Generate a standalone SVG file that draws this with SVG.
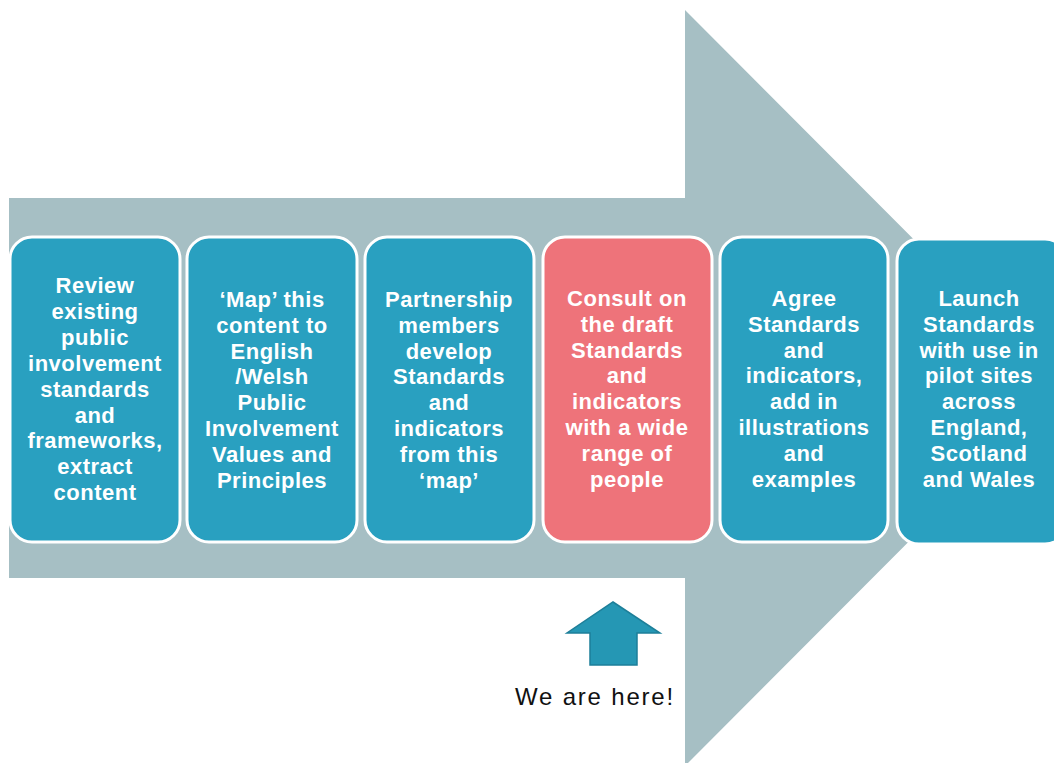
<svg xmlns="http://www.w3.org/2000/svg" width="1054" height="763" viewBox="0 0 1054 763">
<style>
.box{fill:#29a0c0;stroke:#ffffff;stroke-width:3}
.hot{fill:#ee737a}
.t{font-family:"Liberation Sans",Arial,sans-serif;font-size:22px;font-weight:bold;fill:#ffffff;text-anchor:middle;letter-spacing:0.5px}
.lbl{font-family:"Liberation Sans",Arial,sans-serif;font-size:24px;fill:#111111;text-anchor:middle;letter-spacing:1.8px}
</style>
<rect width="1054" height="763" fill="#ffffff"/>
<g id="big-arrow">
<polygon points="9,198 685,198 685,10 1062,388 685,766 685,578 9,578" fill="#a6bfc4"/>
</g>
<g id="step1">
<rect class="box" x="10" y="237" width="170" height="305" rx="22"/>
<text class="t" x="95" y="293"><tspan x="95">Review</tspan><tspan x="95" dy="25.9">existing</tspan><tspan x="95" dy="25.9">public</tspan><tspan x="95" dy="25.9">involvement</tspan><tspan x="95" dy="25.9">standards</tspan><tspan x="95" dy="25.9">and</tspan><tspan x="95" dy="25.9">frameworks,</tspan><tspan x="95" dy="25.9">extract</tspan><tspan x="95" dy="25.9">content</tspan></text>
</g>
<g id="step2">
<rect class="box" x="187" y="237" width="170" height="305" rx="22"/>
<text class="t" x="272" y="307"><tspan x="272">‘Map’ this</tspan><tspan x="272" dy="25.8">content to</tspan><tspan x="272" dy="25.8">English</tspan><tspan x="272" dy="25.8">/Welsh</tspan><tspan x="272" dy="25.8">Public</tspan><tspan x="272" dy="25.8">Involvement</tspan><tspan x="272" dy="25.8">Values and</tspan><tspan x="272" dy="25.8">Principles</tspan></text>
</g>
<g id="step3">
<rect class="box" x="365" y="237" width="169" height="305" rx="22"/>
<text class="t" x="449" y="307"><tspan x="449">Partnership</tspan><tspan x="449" dy="25.8">members</tspan><tspan x="449" dy="25.8">develop</tspan><tspan x="449" dy="25.8">Standards</tspan><tspan x="449" dy="25.8">and</tspan><tspan x="449" dy="25.8">indicators</tspan><tspan x="449" dy="25.8">from this</tspan><tspan x="449" dy="25.8">‘map’</tspan></text>
</g>
<g id="step4">
<rect class="box hot" x="543" y="237" width="169" height="305" rx="22"/>
<text class="t" x="627" y="306"><tspan x="627">Consult on</tspan><tspan x="627" dy="25.8">the draft</tspan><tspan x="627" dy="25.8">Standards</tspan><tspan x="627" dy="25.8">and</tspan><tspan x="627" dy="25.8">indicators</tspan><tspan x="627" dy="25.8">with a wide</tspan><tspan x="627" dy="25.8">range of</tspan><tspan x="627" dy="25.8">people</tspan></text>
</g>
<g id="step5">
<rect class="box" x="720" y="237" width="168" height="305" rx="22"/>
<text class="t" x="804" y="306"><tspan x="804">Agree</tspan><tspan x="804" dy="25.8">Standards</tspan><tspan x="804" dy="25.8">and</tspan><tspan x="804" dy="25.8">indicators,</tspan><tspan x="804" dy="25.8">add in</tspan><tspan x="804" dy="25.8">illustrations</tspan><tspan x="804" dy="25.8">and</tspan><tspan x="804" dy="25.8">examples</tspan></text>
</g>
<g id="step6">
<rect class="box" x="897" y="239" width="170" height="305" rx="22"/>
<text class="t" x="979" y="306"><tspan x="979">Launch</tspan><tspan x="979" dy="25.8">Standards</tspan><tspan x="979" dy="25.8">with use in</tspan><tspan x="979" dy="25.8">pilot sites</tspan><tspan x="979" dy="25.8">across</tspan><tspan x="979" dy="25.8">England,</tspan><tspan x="979" dy="25.8">Scotland</tspan><tspan x="979" dy="25.8">and Wales</tspan></text>
</g>
<g id="you-are-here">
<polygon points="613,602 660,633 637,633 637,665 590,665 590,633 567,633" fill="#2597b4" stroke="#1d7f99" stroke-width="1.5"/>
<text class="lbl" x="595" y="705">We are here!</text>
</g>
</svg>
